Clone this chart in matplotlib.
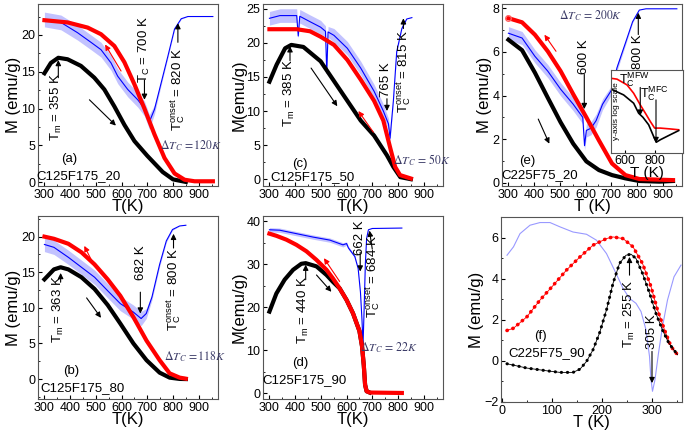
import matplotlib
matplotlib.use('Agg')
import matplotlib.pyplot as plt
from matplotlib.ticker import MultipleLocator, AutoMinorLocator
import numpy as np

plt.rcParams['font.family'] = ['Liberation Sans', 'DejaVu Sans']
plt.rcParams['mathtext.fontset'] = 'custom'
plt.rcParams['mathtext.rm'] = 'Liberation Sans'
plt.rcParams['mathtext.it'] = 'Liberation Sans:italic'
plt.rcParams['mathtext.bf'] = 'Liberation Sans:bold'

# ---------------- data ----------------
# (a) C125F175_20
a_black_T = [300, 325, 354, 390, 442, 494, 533, 572, 611, 650, 680, 700, 730, 760, 800, 850]
a_black_M = [14.8, 16.2, 16.9, 16.7, 15.8, 14.2, 12.6, 10.3, 7.8, 5.6, 4.4, 3.6, 2.5, 1.4, 0.4, 0.05]
a_red_T = [300, 390, 468, 520, 572, 611, 650, 689, 728, 767, 806, 845, 884, 955]
a_red_M = [22.0, 21.7, 21.0, 20.1, 18.5, 16.3, 13.3, 10.0, 6.5, 3.3, 1.2, 0.35, 0.14, 0.14]
a_blue_T = [300, 364, 429, 481, 520, 559, 585, 624, 663, 689, 708, 728, 754, 780, 806, 832, 858, 955]
a_blue_M = [22.1, 21.7, 20.3, 19.0, 18.0, 16.2, 14.4, 12.6, 11.2, 10.0, 8.2, 9.9, 13.5, 17.1, 20.8, 22.2, 22.5, 22.5]
a_blue_spread = [1.0, 1.0, 1.0, 1.0, 1.0, 1.0, 1.0, 1.0, 1.0, 1.0, 1.0, 0.6, 0.3, 0.2, 0.1, 0.05, 0.0, 0.0]

# (b) C125F175_80
b_black_T = [300, 337, 363, 393, 444, 495, 546, 595, 646, 697, 748, 787, 826, 850]
b_black_M = [14.0, 15.4, 15.7, 15.4, 14.3, 12.65, 10.4, 7.8, 5.0, 2.65, 0.9, 0.2, 0.02, 0.0]
b_red_T = [300, 337, 393, 444, 495, 546, 595, 646, 697, 748, 787, 826, 850]
b_red_M = [20.0, 19.7, 19.0, 17.8, 16.1, 14.0, 11.7, 8.7, 5.4, 2.65, 0.8, 0.2, 0.05]
b_blue_T = [300, 337, 393, 444, 495, 546, 595, 646, 676, 696, 718, 748, 774, 798, 826, 850]
b_blue_M = [18.9, 18.5, 17.1, 15.7, 14.3, 12.4, 10.6, 9.4, 8.5, 9.2, 11.5, 16.1, 19.4, 21.0, 21.5, 21.6]
b_blue_spread = [1.0, 1.0, 1.0, 1.0, 1.0, 1.0, 1.0, 1.0, 1.0, 0.7, 0.4, 0.3, 0.2, 0.1, 0.0, 0.0]

# (c) C125F175_50
c_black_T = [300, 328, 361, 385, 432, 499, 551, 603, 655, 707, 757, 782, 809, 850]
c_black_M = [14.3, 16.8, 19.2, 19.7, 19.4, 17.3, 14.4, 11.5, 8.6, 6.4, 3.5, 1.8, 0.3, 0.0]
c_red_T = [300, 406, 458, 499, 551, 603, 655, 707, 743, 769, 789, 808, 850]
c_red_M = [22.0, 22.0, 21.7, 20.9, 19.7, 17.5, 14.6, 11.5, 8.6, 4.7, 1.8, 0.6, 0.1]
c_blue_T = [300, 341, 406, 412, 418, 458, 499, 518, 523, 528, 551, 603, 655, 707, 743, 763, 769, 782, 795, 815, 834, 854]
c_blue_M = [23.6, 24.0, 24.0, 21.0, 23.9, 23.1, 22.3, 21.7, 15.6, 21.6, 21.1, 19.2, 16.3, 12.9, 10.0, 8.1, 6.0, 11.5, 18.7, 22.1, 23.5, 23.7]
c_blue_spread = [1.0, 1.0, 1.0, 0.3, 1.0, 1.0, 1.0, 0.8, 0.2, 0.8, 1.0, 1.0, 1.0, 1.0, 1.0, 0.8, 0.5, 0.3, 0.2, 0.1, 0.0, 0.0]

# (d) C125F175_90
d_black_T = [300, 327, 359, 392, 424, 441, 483, 522, 547, 573, 600, 625, 650, 660, 667, 672, 678, 690]
d_black_M = [19.0, 23.2, 26.4, 28.7, 30.1, 30.25, 29.5, 27.5, 25.9, 24.4, 21.7, 18.6, 14.5, 11.0, 6.5, 2.0, 0.5, 0.2]
d_red_T = [300, 327, 366, 405, 444, 483, 522, 547, 573, 600, 625, 650, 660, 667, 672, 678, 690, 815]
d_red_M = [37.1, 36.6, 35.7, 34.5, 33.0, 31.0, 28.7, 26.7, 24.4, 21.7, 18.6, 14.5, 11.0, 6.5, 2.0, 0.5, 0.2, 0.1]
d_blue_T = [300, 340, 405, 470, 535, 586, 600, 607, 632, 645, 654, 660, 664, 668, 673, 678, 685, 700, 815]
d_blue_M = [38.0, 37.9, 37.1, 36.3, 35.6, 34.5, 34.8, 33.8, 31.8, 29.0, 23.5, 17.0, 11.2, 19.0, 30.0, 36.0, 38.0, 38.3, 38.4]
d_blue_spread = [0.5, 0.5, 0.5, 0.5, 0.5, 0.5, 0.4, 0.4, 0.3, 0.2, 0.1, 0.1, 0.1, 0.1, 0.1, 0.0, 0.0, 0.0, 0.0]

# (e) C225F75_20
e_black_T = [300, 353, 403, 453, 503, 552, 603, 652, 703, 755, 809, 887, 940]
e_black_M = [6.56, 6.08, 5.05, 3.9, 2.77, 1.79, 0.98, 0.58, 0.35, 0.2, 0.08, 0.05, 0.08]
e_red_T = [300, 353, 403, 453, 503, 552, 603, 652, 703, 755, 809, 940]
e_red_M = [7.55, 7.36, 6.79, 6.03, 5.12, 4.06, 3.0, 1.94, 0.88, 0.35, 0.17, 0.12]
e_blue_T = [300, 353, 403, 453, 503, 552, 589, 596, 603, 621, 641, 666, 703, 722, 757, 783, 809, 835, 955]
e_blue_M = [6.86, 6.64, 5.8, 5.12, 4.29, 3.6, 3.0, 1.7, 2.4, 2.5, 2.85, 3.6, 4.29, 5.27, 6.48, 7.39, 7.92, 7.98, 7.98]
e_blue_spread = [0.3, 0.3, 0.3, 0.3, 0.3, 0.3, 0.3, 0.2, 0.3, 0.3, 0.3, 0.25, 0.2, 0.15, 0.1, 0.05, 0.0, 0.0, 0.0]

# (e) inset, y axis in log scale (arbitrary units)
ins_red_T = [509, 549, 616, 660, 704, 738, 771, 800, 838, 904, 960]
ins_red_y = [0.90, 0.89, 0.82, 0.72, 0.58, 0.48, 0.38, 0.30, 0.30, 0.29, 0.28]
ins_black_T = [509, 593, 660, 693, 722, 760, 793, 811, 838, 904, 960]
ins_black_y = [0.77, 0.70, 0.60, 0.48, 0.43, 0.34, 0.20, 0.13, 0.16, 0.22, 0.27]

# (f) C225F75_90
f_red_T = [10, 23, 50, 76, 103, 129, 156, 182, 209, 222, 242, 262, 281, 298, 311, 325, 338, 351]
f_red_M = [1.48, 1.59, 2.15, 2.96, 3.69, 4.42, 5.06, 5.63, 5.95, 6.03, 5.95, 5.55, 4.74, 3.61, 2.48, 1.51, 0.70, 0.30]
f_black_T = [10, 50, 89, 116, 142, 156, 169, 182, 195, 209, 222, 235, 248, 258, 268, 281, 295, 308, 321, 334, 351]
f_black_M = [-0.14, -0.35, -0.48, -0.56, -0.56, -0.40, -0.03, 0.54, 1.35, 2.48, 3.77, 4.74, 5.14, 5.19, 4.98, 4.26, 3.3, 2.3, 1.5, 0.85, 0.30]
f_blue_T = [10, 23, 36, 56, 76, 96, 116, 142, 169, 189, 209, 228, 242, 255, 268, 278, 288, 295, 298, 301, 306, 313, 321, 331, 344, 358]
f_blue_M = [5.14, 5.55, 6.19, 6.6, 6.73, 6.73, 6.52, 6.27, 6.16, 5.87, 5.22, 4.26, 3.53, 3.04, 2.8, 2.4, 1.51, 0.22, -0.91, -1.48, -0.91, 0.38, 1.67, 2.96, 4.09, 4.66]

RED = '#ff0000'
BLUE = '#0000ff'
BAND = '#9a9aff'
DT_COLOR = '#3a3a66'
FS = 9
LABEL_FS = 12


def style(ax, xlim, ylim, xmajor, ymajor, xlabel, ylabel):
    ax.set_xlim(*xlim)
    ax.set_ylim(*ylim)
    ax.xaxis.set_major_locator(MultipleLocator(xmajor))
    ax.yaxis.set_major_locator(MultipleLocator(ymajor))
    ax.xaxis.set_minor_locator(AutoMinorLocator(2))
    ax.yaxis.set_minor_locator(AutoMinorLocator(2))
    ax.tick_params(which='both', direction='in', labelsize=FS, pad=2)
    ax.tick_params(which='major', length=3)
    ax.tick_params(which='minor', length=1.5)
    for sp in ax.spines.values():
        sp.set_color('#555555')
        sp.set_linewidth(0.8)
    ax.set_xlabel(xlabel, fontsize=LABEL_FS, labelpad=-1)
    ax.set_ylabel(ylabel, fontsize=LABEL_FS, labelpad=0)


def noisy(ax, T, M, spread):
    T = np.array(T)
    M = np.array(M)
    s = np.array(spread)
    ax.fill_between(T, M - s, M + s, color=BAND, alpha=0.6, lw=0)
    ax.plot(T, M, color=BLUE, lw=0.8)


def arrow(ax, tail, tip, color='k'):
    ax.annotate('', xy=tip, xytext=tail,
                arrowprops=dict(arrowstyle='-|>', color=color, lw=0.8,
                                mutation_scale=8, shrinkA=0, shrinkB=0))


def vtext(ax, x, y, s, size=FS + 0.5):
    ax.text(x, y, s, rotation=90, ha='center', va='center', fontsize=size)


def dT(ax, x, y, s):
    ax.text(x, y, s, ha='center', va='center', fontsize=8.5, color=DT_COLOR,
            math_fontfamily='stix')


def label(ax, x, y, s):
    ax.text(x, y, s, ha='center', va='center', fontsize=FS + 0.5)


fig = plt.figure(figsize=(6.85, 4.3), dpi=100)
W, H = 685.0, 430.0


def add_axes(left, top, width, height):
    return fig.add_axes([left / W, (H - top - height) / H, width / W, height / H])


TK = 'T(K)'

# ---------------- (a) ----------------
ax = add_axes(38, 4, 180, 182)
noisy(ax, a_blue_T, a_blue_M, a_blue_spread)
ax.plot(a_black_T, a_black_M, color='k', lw=3)
ax.plot(a_red_T, a_red_M, color=RED, lw=3)
style(ax, (275, 975), (-0.5, 24.2), 100, 5, TK, 'M (emu/g)')
vtext(ax, 345, 10.2, r'T$_\mathrm{m}$ = 355 K')
arrow(ax, (354, 14.2), (354, 16.6))
vtext(ax, 689, 18.0, r'T$_\mathrm{C}$ = 700 K')
arrow(ax, (689, 13.9), (689, 11.2))
vtext(ax, 819, 12.6, r'T$_\mathrm{C}^\mathrm{onset}$ = 820 K')
arrow(ax, (819, 19.0), (819, 21.6))
dT(ax, 870, 5.0, r'$\Delta T_C\,=120K$')
label(ax, 398, 3.1, '(a)')
label(ax, 433, 0.9, 'C125F175_20')
arrow(ax, (598, 15.1), (536, 18.7), RED)
arrow(ax, (475, 11.2), (578, 7.7))

# ---------------- (b) ----------------
ax = add_axes(38, 216, 180, 183)
noisy(ax, b_blue_T, b_blue_M, b_blue_spread)
ax.plot(b_black_T, b_black_M, color='k', lw=3)
ax.plot(b_red_T, b_red_M, color=RED, lw=3)
style(ax, (275, 975), (-2.8, 22.9), 100, 5, TK, 'M (emu/g)')
vtext(ax, 354, 9.9, r'T$_\mathrm{m}$ = 363 K')
arrow(ax, (363, 13.6), (363, 14.9))
vtext(ax, 676, 16.4, '682 K')
arrow(ax, (673, 12.2), (673, 9.2))
vtext(ax, 802, 12.6, r'T$_\mathrm{C}^\mathrm{onset}$ = 800 K')
arrow(ax, (802, 18.4), (802, 20.4))
dT(ax, 884, 3.1, r'$\Delta T_C\,=118K$')
label(ax, 406, 1.1, '(b)')
label(ax, 448, -1.3, 'C125F175_80')
arrow(ax, (494, 15.9), (455, 18.7), RED)
arrow(ax, (464, 11.4), (520, 8.6))

# ---------------- (c) ----------------
ax = add_axes(263, 4, 180, 182)
noisy(ax, c_blue_T, c_blue_M, c_blue_spread)
ax.plot(c_black_T, c_black_M, color='k', lw=3)
ax.plot(c_red_T, c_red_M, color=RED, lw=3)
style(ax, (275, 975), (-1.0, 25.7), 100, 5, TK, 'M(emu/g)')
vtext(ax, 378, 12.7, r'T$_\mathrm{m}$ = 385 K')
arrow(ax, (380, 17.4), (380, 19.5))
vtext(ax, 754, 14.6, '765 K')
arrow(ax, (757, 11.8), (757, 10.0))
vtext(ax, 821, 15.8, r'T$_\mathrm{C}^\mathrm{onset}$ = 815 K')
arrow(ax, (821, 22.1), (821, 23.6))
dT(ax, 892, 2.75, r'$\Delta T_C\,=\,50K$')
label(ax, 420, 2.3, '(c)')
label(ax, 466, 0.3, 'C125F175_50')
arrow(ax, (462, 16.3), (564, 10.7))
arrow(ax, (704, 6.9), (646, 10.0), RED)

# ---------------- (d) ----------------
ax = add_axes(263, 216, 180, 183)
noisy(ax, d_blue_T, d_blue_M, d_blue_spread)
ax.plot(d_black_T, d_black_M, color='k', lw=3)
ax.plot(d_red_T, d_red_M, color=RED, lw=3)
style(ax, (275, 975), (-1.3, 41.2), 100, 10, TK, 'M(emu/g)')
vtext(ax, 433, 19.3, r'T$_\mathrm{m}$ = 440 K')
arrow(ax, (441, 26.4), (441, 29.9))
vtext(ax, 651, 36.1, '662 K')
arrow(ax, (653, 32.8), (653, 28.3))
vtext(ax, 703, 27.1, r'T$_\mathrm{C}^\mathrm{onset}$ = 684 K')
arrow(ax, (700, 33.5), (689, 37.8))
dT(ax, 765, 10.6, r'$\Delta T_C\,=\,22K$')
label(ax, 418, 7.0, '(d)')
label(ax, 436, 3.2, 'C125F175_90')
arrow(ax, (573, 26.0), (512, 31.4), RED)
arrow(ax, (483, 27.5), (541, 23.6))

# ---------------- (e) ----------------
ax = add_axes(502, 4, 180, 182)
noisy(ax, e_blue_T, e_blue_M, e_blue_spread)
ax.plot(e_black_T, e_black_M, color='k', lw=3)
ax.plot(e_red_T, e_red_M, color=RED, lw=3)
ax.plot(e_red_T[:1], e_red_M[:1], 'o', mfc='none', mec='#ff6060', ms=4)
style(ax, (275, 975), (-0.15, 8.2), 100, 2, 'T (K)', 'M (emu/g)')
dT(ax, 621, 7.67, r'$\Delta T_C\,=\,200K$')
vtext(ax, 595, 5.8, '600 K')
arrow(ax, (595, 4.97), (595, 3.38))
vtext(ax, 805, 6.0, '800 K')
arrow(ax, (805, 6.8), (805, 7.8))
label(ax, 372, 0.98, '(e)')
label(ax, 422, 0.33, 'C225F75_20')
arrow(ax, (485, 6.03), (440, 6.79), RED)
arrow(ax, (416, 2.92), (459, 1.79))

# inset
ins = add_axes(611, 70, 72, 83)
ins.plot(ins_red_T, ins_red_y, color=RED, lw=1.2)
ins.plot(ins_black_T, ins_black_y, color='k', lw=1.2)
ins.set_xlim(509, 989)
ins.set_ylim(0, 1)
ins.set_xticks([600, 800])
ins.set_yticks([])
ins.tick_params(direction='in', labelsize=9, pad=1.5, length=2.5)
for sp in ins.spines.values():
    sp.set_color('#555555')
    sp.set_linewidth(0.8)
ins.set_xlabel('T (K)', fontsize=11, labelpad=-1)
ins.text(0.07, 0.5, 'y-axis log scale', transform=ins.transAxes, rotation=90,
         ha='center', va='center', fontsize=6)
ins.text(664, 0.88, r'T$_\mathrm{C}^\mathrm{MFW}$', ha='center', va='center', fontsize=9)
arrow(ins, (704, 0.79), (704, 0.45))
ins.text(800, 0.72, r'T$_\mathrm{C}^\mathrm{MFC}$', ha='center', va='center', fontsize=9)
arrow(ins, (809, 0.64), (809, 0.12))

# ---------------- (f) ----------------
ax = add_axes(501, 217, 181, 185)
ax.plot(f_blue_T, f_blue_M, color='#9999ff', lw=0.8)
ax.plot(f_red_T, f_red_M, color=RED, lw=0.6)
ax.plot(f_red_T, f_red_M, color=RED, lw=2.6, ls=(0, (0.1, 1.6)), dash_capstyle='round')
ax.plot(f_black_T, f_black_M, color='k', lw=0.6)
ax.plot(f_black_T, f_black_M, color='k', lw=2.2, ls=(0, (0.1, 1.9)), dash_capstyle='round')
style(ax, (-2, 360), (-2, 7), 100, 2, 'T (K)', 'M (emu/g)')
vtext(ax, 255, 2.3, r'T$_\mathrm{m}$ = 255 K')
arrow(ax, (255, 4.17), (255, 5.06))
vtext(ax, 300, 1.43, '305 K')
arrow(ax, (300, 0.46), (300, -1.08))
label(ax, 76, 1.2, '(f)')
label(ax, 89, 0.4, 'C225F75_90')

fig.savefig('out.png', dpi=100)
